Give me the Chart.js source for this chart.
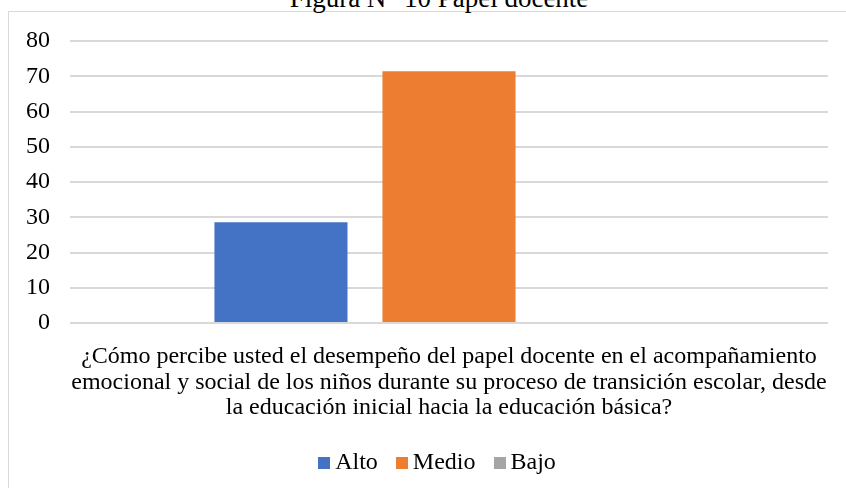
<!DOCTYPE html>
<html>
<head>
<meta charset="utf-8">
<script src="https://cdn.jsdelivr.net/npm/chart.js@4"></script>
<style>
html,body{margin:0;padding:0;background:#fff;overflow:hidden;}
#wrap{position:relative;width:846px;height:488px;overflow:hidden;background:#fff;}
#frame{position:absolute;left:8px;top:11px;width:900px;height:600px;border:1px solid #d9d9d9;box-sizing:border-box;}
#title{position:absolute;left:0;width:878px;top:-15px;text-align:center;font:27px "Liberation Serif","Times New Roman",serif;line-height:27px;color:#000;white-space:nowrap;}
#c{position:absolute;left:0;top:0;}
#legend{position:absolute;left:0;width:874px;top:448px;text-align:center;font:24px "Liberation Serif","Times New Roman",serif;line-height:26px;color:#000;white-space:nowrap;}
#legend span.item{display:inline-block;margin:0 9px;}
#legend span.box{display:inline-block;width:12px;height:12px;margin-right:5px;vertical-align:0px;}
</style>
</head>
<body>
<div id="wrap">
  <div id="frame"></div>
  <div id="title">Figura N° 10 Papel docente</div>
  <canvas id="c" width="846" height="488"></canvas>
  <div id="legend"></div>
</div>
<script>
const categories = [[
  "¿Cómo percibe usted el desempeño del papel docente en el acompañamiento",
  "emocional y social de los niños durante su proceso de transición escolar, desde",
  "la educación inicial hacia la educación básica?"
]];
const seriesNames = ["Alto", "Medio", "Bajo"];
const alto = [28.6];
const medio = [71.4];
const bajo = [0];
const seriesColors = ["#4472C4", "#ED7D31", "#A5A5A5"];
const yTicks = [0, 10, 20, 30, 40, 50, 60, 70, 80];

const values = [alto, medio, bajo];
const datasets = seriesNames.map((n, i) => ({
  label: n,
  data: values[i],
  backgroundColor: seriesColors[i],
  borderWidth: 0,
  categoryPercentage: 0.665,
  barPercentage: 0.792
}));

const font = {family: '"Liberation Serif","Times New Roman",serif', size: 24};

new Chart(document.getElementById('c'), {
  type: 'bar',
  data: {labels: categories, datasets},
  options: {
    responsive: false,
    animation: false,
    devicePixelRatio: 1,
    layout: {padding: {left: 8, right: 18, top: 41, bottom: 0}},
    plugins: {legend: {display: false}, title: {display: false}, tooltip: {enabled: false}},
    scales: {
      x: {
        grid: {display: false, drawTicks: false},
        border: {display: false},
        ticks: {color: '#000', font: {...font, lineHeight: 1.07}, padding: 21, maxRotation: 0, autoSkip: false},
        afterFit(s) { s.height = 165; s.paddingLeft = 0; s.paddingRight = 0; }
      },
      y: {
        min: 0, max: 80,
        afterBuildTicks(s) { s.ticks = yTicks.map(v => ({value: v})); },
        grid: {color: '#d9d9d9', lineWidth: 2, drawTicks: false},
        border: {display: false},
        ticks: {color: '#000', font, padding: 20},
        afterFit(s) { s.width = 62; }
      }
    }
  }
});

const lg = document.getElementById('legend');
seriesNames.forEach((n, i) => {
  const it = document.createElement('span');
  it.className = 'item';
  const b = document.createElement('span');
  b.className = 'box';
  b.style.background = seriesColors[i];
  it.appendChild(b);
  it.appendChild(document.createTextNode(n));
  lg.appendChild(it);
});
</script>
</body>
</html>
